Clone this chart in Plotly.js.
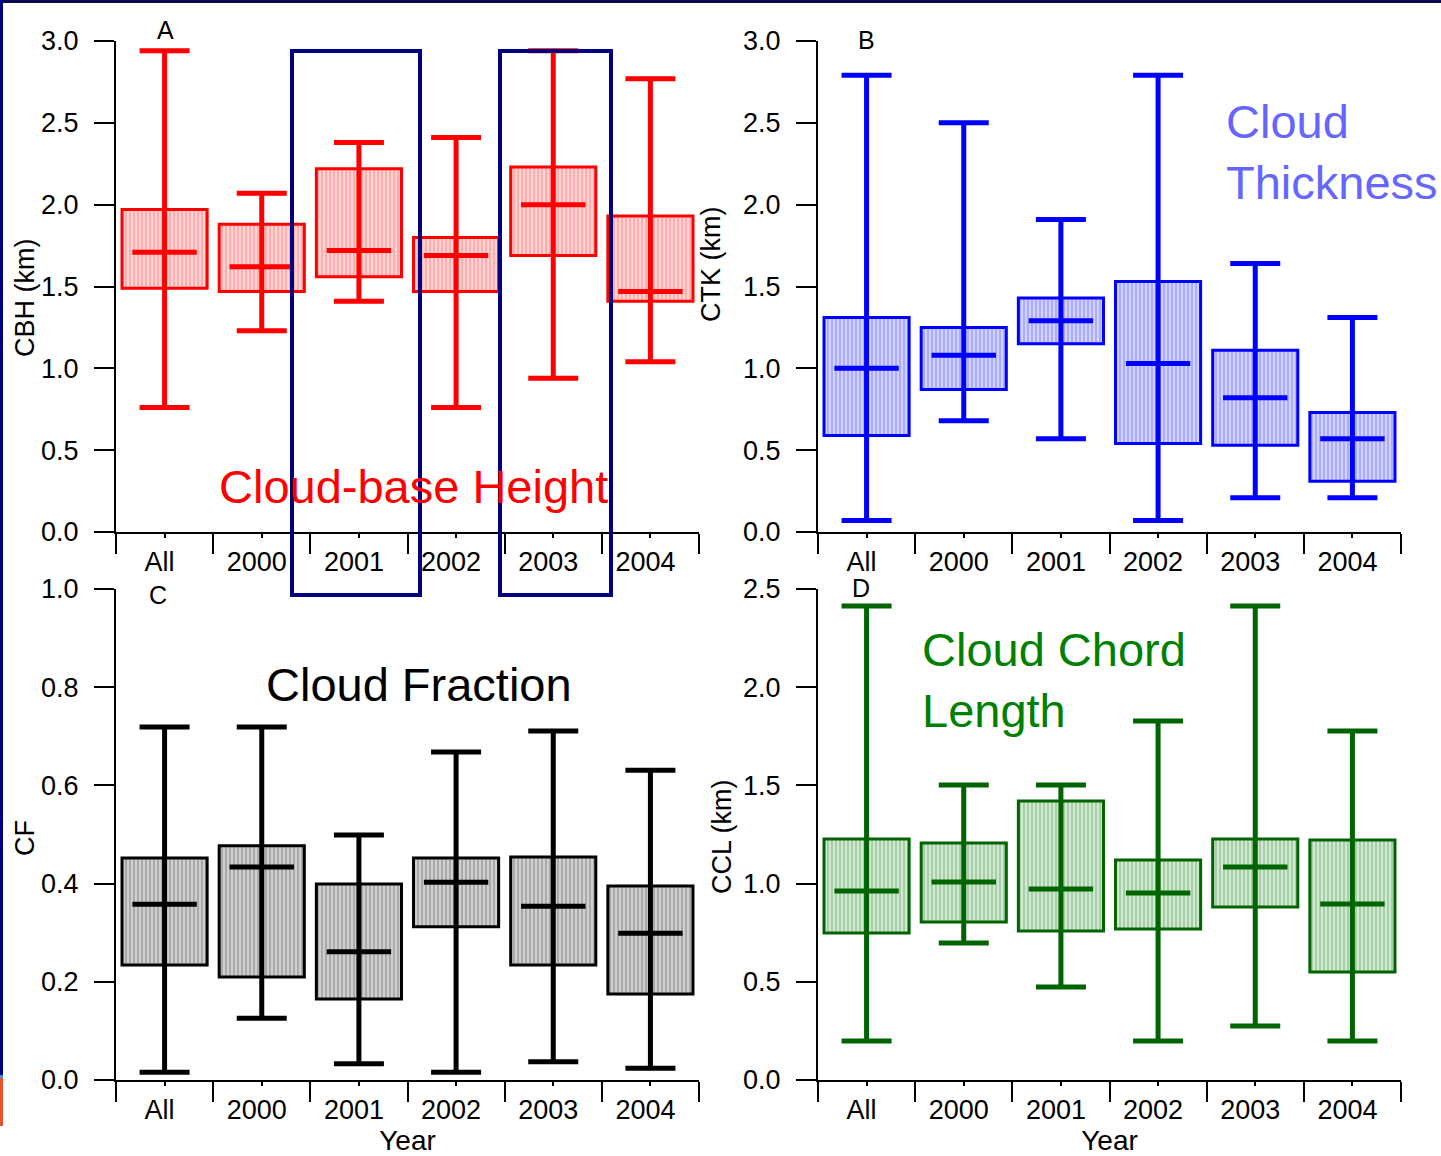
<!DOCTYPE html>
<html>
<head>
<meta charset="utf-8">
<script src="https://cdn.plot.ly/plotly-3.0.1.min.js"></script>
<style>html,body{margin:0;padding:0;background:#fff;}#chart{width:1441px;height:1156px;}</style>
</head>
<body>
<div id="chart"></div>
<script>
// ---- data ----
const categories = ['All', '2000', '2001', '2002', '2003', '2004'];

// A: Cloud-base height (km)
const cbhLow  = [0.76, 1.23, 1.41, 0.76, 0.94, 1.04];
const cbhQ1   = [1.49, 1.47, 1.56, 1.47, 1.69, 1.41];
const cbhMed  = [1.71, 1.62, 1.72, 1.69, 2.00, 1.47];
const cbhQ3   = [1.97, 1.88, 2.22, 1.80, 2.23, 1.93];
const cbhHigh = [2.94, 2.07, 2.38, 2.41, 2.94, 2.77];

// B: Cloud thickness (km)
const ctkLow  = [0.07, 0.68, 0.57, 0.07, 0.21, 0.21];
const ctkQ1   = [0.59, 0.87, 1.15, 0.54, 0.53, 0.31];
const ctkMed  = [1.00, 1.08, 1.29, 1.03, 0.82, 0.57];
const ctkQ3   = [1.31, 1.25, 1.43, 1.53, 1.11, 0.73];
const ctkHigh = [2.79, 2.50, 1.91, 2.79, 1.64, 1.31];

// C: Cloud fraction
const cfLow  = [0.016, 0.126, 0.033, 0.016, 0.037, 0.024];
const cfQ1   = [0.234, 0.210, 0.165, 0.312, 0.234, 0.175];
const cfMed  = [0.358, 0.434, 0.261, 0.403, 0.354, 0.299];
const cfQ3   = [0.452, 0.477, 0.399, 0.452, 0.454, 0.395];
const cfHigh = [0.719, 0.719, 0.499, 0.668, 0.711, 0.631];

// D: Cloud chord length (km)
const cclLow  = [0.199, 0.698, 0.474, 0.199, 0.275, 0.199];
const cclQ1   = [0.748, 0.804, 0.759, 0.769, 0.881, 0.550];
const cclMed  = [0.962, 1.008, 0.973, 0.952, 1.085, 0.896];
const cclQ3   = [1.227, 1.207, 1.421, 1.120, 1.227, 1.222];
const cclHigh = [2.413, 1.502, 1.502, 1.828, 2.413, 1.777];

// ---- build ----
const W = 1441, H = 1156;
const idx = categories.map((c, i) => i);
const fx = p => p / W;
const fy = p => 1 - p / H;

function panel(low, q1, med, q3, high, xa, ya, col, bg, fg) {
  const box = {
    type: 'bar', x: idx, base: q1, y: q3.map((v, i) => v - q1[i]),
    width: 0.876, xaxis: xa, yaxis: ya, hoverinfo: 'skip',
    marker: { color: bg, line: { color: col, width: 3 },
      pattern: { shape: '|', bgcolor: bg, fgcolor: fg, size: 4, solidity: 0.35, fillmode: 'replace' } }
  };
  const whisk = {
    type: 'scatter', mode: 'markers', x: idx, y: med, xaxis: xa, yaxis: ya, hoverinfo: 'skip',
    marker: { symbol: 'line-ew', size: 46, color: col, line: { color: col, width: 5 } },
    error_y: { type: 'data', symmetric: false,
      array: high.map((v, i) => v - med[i]), arrayminus: med.map((v, i) => v - low[i]),
      width: 25, thickness: 5, color: col }
  };
  return [box, whisk];
}

const data = [].concat(
  panel(cbhLow, cbhQ1, cbhMed, cbhQ3, cbhHigh, 'x', 'y', '#ff0000', '#ffd4d4', '#ff9c9c'),
  panel(ctkLow, ctkQ1, ctkMed, ctkQ3, ctkHigh, 'x2', 'y2', '#0000ff', '#d2d2ff', '#9c9cff'),
  panel(cfLow, cfQ1, cfMed, cfQ3, cfHigh, 'x3', 'y3', '#000000', '#cfcfcf', '#9a9a9a'),
  panel(cclLow, cclQ1, cclMed, cclQ3, cclHigh, 'x4', 'y4', '#006400', '#d2e8d2', '#94c494')
);

const tickFont = { family: 'Liberation Sans, Arial, sans-serif', size: 27, color: '#000' };

function xAx(l, r, anchor, title) {
  const a = {
    domain: [fx(l), fx(r)], anchor: anchor, range: [-0.5, 5.5],
    tickmode: 'array', tickvals: idx, ticktext: categories,
    ticks: 'outside', ticklen: 4, tickwidth: 2, tickcolor: '#000',
    minor: { tick0: -0.5, dtick: 1, ticks: 'outside', ticklen: 20, tickwidth: 2, tickcolor: '#000' },
    showline: true, linewidth: 2, linecolor: '#000', showgrid: false, zeroline: false,
    tickfont: tickFont, ticklabelstandoff: 1, ticklabelshift: -5, fixedrange: true
  };
  if (title) a.title = { text: title, font: { family: 'Liberation Sans, Arial, sans-serif', size: 28, color: '#000' }, standoff: 9 };
  return a;
}
function yAx(t, b, anchor, maxv) {
  return {
    domain: [fy(b), fy(t)], anchor: anchor, range: [0, maxv],
    tick0: 0, dtick: maxv === 1 ? 0.2 : 0.5, tickformat: '.1f',
    ticks: 'outside', ticklen: 20, tickwidth: 2, tickcolor: '#000',
    showline: true, linewidth: 2, linecolor: '#000', showgrid: false, zeroline: false,
    tickfont: tickFont, ticklabelstandoff: 10, fixedrange: true
  };
}

const txt = (text, x, y, size, color, extra) => Object.assign({
  text: text, x: fx(x), y: fy(y), xref: 'paper', yref: 'paper', showarrow: false,
  xanchor: 'center', yanchor: 'middle',
  font: { family: 'Liberation Sans, Arial, sans-serif', size: size, color: color }
}, extra || {});

const annotations = [
  txt('A', 165, 30, 25, '#000'),
  txt('B', 866, 40, 25, '#000'),
  txt('C', 158, 595, 25, '#000'),
  txt('D', 861, 588, 25, '#000'),
  txt('CBH (km)', 25, 298, 27, '#000', { textangle: -90 }),
  txt('CTK (km)', 711, 265, 27, '#000', { textangle: -90 }),
  txt('CF', 25, 838, 27, '#000', { textangle: -90 }),
  txt('CCL (km)', 722, 837, 27, '#000', { textangle: -90 }),
  txt('Cloud-base Height', 413, 486, 47, '#ff0000'),
  txt('Cloud<br>Thickness', 1224, 152, 47, '#6666ff', { xanchor: 'left', align: 'left' }),
  txt('Cloud Fraction', 419, 684, 47, '#000'),
  txt('Cloud Chord<br>Length', 920, 680, 47, '#008000', { xanchor: 'left', align: 'left' })
];

const rect = (x0, y0, x1, y1, lineCol, lw, fill) => ({
  type: 'rect', xref: 'paper', yref: 'paper', x0: fx(x0), x1: fx(x1), y0: fy(y1), y1: fy(y0),
  line: { color: lineCol, width: lw }, fillcolor: fill || 'rgba(0,0,0,0)', layer: 'above'
});

const shapes = [
  // highlight boxes around 2001 and 2003
  rect(292, 51, 420, 595, '#000080', 4),
  rect(500, 51, 611, 595, '#000080', 4),
  // slide frame remnants
  rect(0, 0, 1441, 3, '#0a0a50', 0, '#0a0a50'),
  rect(0, 0, 3, 1075, '#000080', 0, '#000080'),
  rect(0, 1075, 3, 1078, '#3d8df0', 0, '#3d8df0'),
  rect(0, 1078, 3, 1126, '#e8542a', 0, '#e8542a')
];

const layout = {
  width: W, height: H, margin: { l: 0, r: 0, t: 0, b: 0 },
  paper_bgcolor: '#fff', plot_bgcolor: 'rgba(0,0,0,0)', showlegend: false, bargap: 0,
  font: tickFont,
  xaxis: xAx(116, 699, 'y'),
  yaxis: yAx(41, 532, 'x', 3),
  xaxis2: xAx(818, 1401, 'y2'),
  yaxis2: yAx(41, 532, 'x2', 3),
  xaxis3: xAx(116, 699, 'y3', 'Year'),
  yaxis3: yAx(589, 1080, 'x3', 1),
  xaxis4: xAx(818, 1401, 'y4', 'Year'),
  yaxis4: yAx(589, 1080, 'x4', 2.5),
  annotations: annotations,
  shapes: shapes
};

Plotly.newPlot('chart', data, layout, { displayModeBar: false, staticPlot: true });
</script>
</body>
</html>
